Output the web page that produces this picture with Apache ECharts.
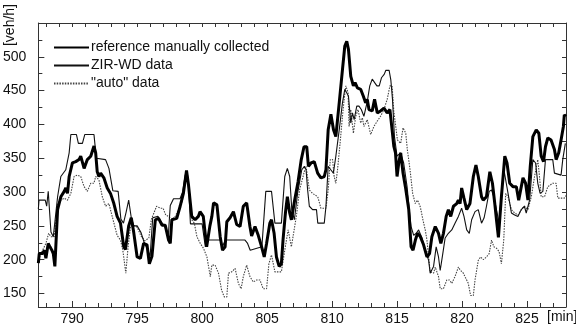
<!DOCTYPE html>
<html>
<head>
<meta charset="utf-8">
<script src="https://cdn.jsdelivr.net/npm/echarts@6/dist/echarts.min.js"></script>
<style>
  html, body { margin: 0; padding: 0; background: #fff; }
  #chart { width: 576px; height: 326px; }
</style>
</head>
<body>
<div id="chart"></div>
<script>
// tick values
var xTicks = [790, 795, 800, 805, 810, 815, 820, 825];
var xMinor = [788, 789, 790, 791, 792, 793, 794, 795, 796, 797, 798, 799, 800, 801, 802, 803, 804, 805, 806, 807, 808, 809, 810, 811, 812, 813, 814, 815, 816, 817, 818, 819, 820, 821, 822, 823, 824, 825, 826, 827];
var yTicks = [150, 200, 250, 300, 350, 400, 450, 500];
var yMinor = [150, 175, 200, 225, 250, 275, 300, 325, 350, 375, 400, 425, 450, 475, 500, 525];

// reference manually collected [min, veh/h]
var refData = [
  [787.4,195],[787.47,209],[787.73,209],[787.86,214],[787.98,202],[788.16,224],[788.29,219],[788.44,214],[788.55,209],[788.67,190],
  [788.88,274],[789.13,293],[789.39,301],[789.51,306],[789.64,298],[789.77,323],[790.02,343],[790.28,345],[790.53,348],[790.66,353],
  [790.92,335],[791.17,348],[791.43,353],[791.68,368],[791.81,358],[791.93,330],[792.06,323],[792.19,328],[792.44,321],[792.7,306],
  [792.95,298],[793.21,283],[793.46,264],[793.72,254],[793.97,219],[794.1,215],[794.35,250],[794.55,262],[794.74,240],[795.0,204],
  [795.25,202],[795.5,224],[795.76,222],[795.94,194],[796.14,205],[796.4,259],[796.65,261],[796.91,251],[797.16,251],[797.42,229],
  [797.55,224],[797.67,259],[798.05,261],[798.31,279],[798.56,298],[798.8,332],[798.95,311],[799.2,264],[799.46,259],[799.71,264],
  [799.84,271],[800.09,264],[800.35,219],[800.6,250],[800.75,264],[800.88,284],[801.14,281],[801.39,234],[801.57,214],[801.77,219],
  [801.9,256],[802.15,262],[802.41,271],[802.66,252],[802.92,249],[803.17,279],[803.43,284],[803.68,249],[803.81,235],[804.07,249],
  [804.32,236],[804.58,219],[804.78,204],[804.96,224],[805.21,254],[805.34,259],[805.54,239],[805.72,204],[805.93,190],[806.1,194],
  [806.23,230],[806.41,269],[806.56,293],[806.74,269],[806.87,259],[807.12,288],[807.38,315],[807.63,348],[807.84,367],[808.05,367],
  [808.18,338],[808.38,343],[808.63,345],[808.89,328],[809.14,321],[809.4,323],[809.53,333],[809.7,392],[809.91,415],[810.11,392],
  [810.29,382],[810.55,432],[810.8,481],[810.98,516],[811.13,523],[811.26,511],[811.44,471],[811.64,457],[811.77,462],[811.95,454],
  [812.2,452],[812.4,442],[812.58,432],[812.71,437],[812.84,422],[813.09,420],[813.27,437],[813.48,417],[813.73,420],[813.99,424],
  [814.24,417],[814.45,422],[814.62,392],[814.75,368],[814.88,358],[815.0,323],[815.13,343],[815.28,358],[815.46,328],[815.64,308],
  [815.9,274],[816.08,219],[816.23,214],[816.41,229],[816.58,239],[816.79,234],[817.04,222],[817.3,204],[817.5,209],[817.68,234],
  [817.94,249],[818.19,239],[818.37,224],[818.57,239],[818.78,264],[818.95,274],[819.13,264],[819.34,279],[819.59,283],[819.72,288],
  [819.85,283],[819.97,306],[820.15,291],[820.36,274],[820.61,283],[820.87,323],[821.07,340],[821.25,323],[821.5,293],[821.63,288],
  [821.88,293],[822.14,330],[822.34,313],[822.52,283],[822.65,259],[822.8,233],[823.03,293],[823.29,353],[823.46,343],[823.67,313],
  [823.92,308],[824.18,308],[824.36,288],[824.56,308],[824.69,321],[824.89,313],[825.07,288],[825.25,338],[825.45,382],[825.71,392],
  [825.91,387],[826.09,353],[826.27,345],[826.42,367],[826.6,380],[826.85,377],[827.11,363],[827.24,348],[827.44,358],[827.62,377],
  [827.8,397],[827.87,414],[828.0,412]
];

// ZIR-WD data
var zirData = [
  [787.4,275],[787.45,288],[787.93,288],[788.04,279],[788.16,301],[788.37,241],[788.55,234],[788.65,234],[788.88,293],[789.13,323],
  [789.51,333],[789.77,358],[789.9,385],[790.33,385],[790.48,372],[790.79,372],[790.97,385],[791.68,385],[791.86,350],[792.57,348],
  [792.83,335],[793.13,302],[793.54,301],[793.75,260],[793.95,254],[794.15,270],[794.35,288],[794.55,262],[794.75,250],[795.0,250],
  [795.3,240],[795.55,225],[795.8,215],[796.0,205],[796.2,262],[796.6,264],[796.9,255],[797.1,250],[797.4,236],[797.55,280],
  [797.8,290],[798.3,290],[798.5,300],[798.7,325],[798.85,330],[798.95,312],[799.1,253],[800.0,253],[800.25,219],[800.4,229],
  [801.4,229],[801.55,219],[801.8,229],[803.3,229],[803.5,224],[803.7,214],[804.6,219],[804.9,301],[805.34,301],[805.6,254],
  [806.1,254],[806.36,323],[806.56,335],[806.74,323],[806.9,274],[807.1,259],[807.36,300],[807.67,333],[807.87,338],[808.0,333],
  [808.12,303],[808.25,279],[808.5,274],[808.8,274],[808.9,254],[809.4,254],[809.53,279],[809.7,338],[809.9,333],[810.1,328],
  [810.29,353],[810.55,392],[810.8,432],[810.98,452],[811.13,454],[811.26,442],[811.44,402],[811.57,417],[811.7,407],[811.9,427],
  [812.07,427],[812.25,422],[812.45,412],[812.71,434],[812.9,457],[813.09,467],[813.24,469],[813.45,457],[813.63,457],[813.8,469],
  [814.01,474],[814.14,480],[814.39,480],[814.52,466],[814.65,437],[814.8,382],[815.0,353],[815.26,358],[815.51,343],[815.77,308],
  [815.97,269],[816.08,249],[816.28,236],[816.48,239],[816.66,244],[816.92,232],[817.17,214],[817.43,199],[817.55,180],[817.81,190],
  [818.01,219],[818.19,204],[818.32,184],[818.52,209],[818.7,232],[818.95,239],[819.21,244],[819.46,254],[819.72,264],[819.97,276],
  [820.15,264],[820.36,244],[820.56,239],[820.74,259],[821.0,271],[821.25,274],[821.5,254],[821.7,262],[821.88,279],[822.09,301],
  [822.27,303],[822.45,293],[822.65,274],[822.85,254],[823.03,298],[823.25,330],[823.54,298],[823.8,269],[824.05,266],[824.3,264],
  [824.56,274],[824.8,279],[824.94,269],[825.2,288],[825.45,348],[825.66,343],[825.83,313],[826.01,298],[826.22,301],[826.42,348],
  [826.98,348],[827.11,328],[827.62,325],[827.75,348],[827.95,372],[828.0,372]
];

// "auto" data
var autoData = [
  [787.4,200],[787.6,209],[787.98,224],[788.19,239],[788.37,234],[788.62,234],[788.88,283],[789.13,288],[789.39,291],[789.64,288],
  [789.9,298],[790.15,323],[790.41,325],[790.66,323],[790.92,308],[791.17,301],[791.43,313],[791.68,313],[791.81,323],[792.06,318],
  [792.32,293],[792.57,279],[792.83,283],[793.08,264],[793.46,236],[793.72,229],[793.9,214],[794.13,180],[794.3,218],[794.5,250],
  [794.8,250],[795.0,248],[795.3,235],[795.6,228],[795.9,232],[796.1,260],[796.5,279],[796.8,276],[797.0,276],[797.2,266],
  [797.42,264],[797.67,259],[797.93,264],[798.18,274],[798.44,283],[798.69,313],[798.9,323],[799.07,293],[799.2,259],[799.4,254],
  [799.6,234],[799.86,224],[800.1,217],[800.37,204],[800.63,175],[800.75,192],[801.0,192],[801.26,180],[801.5,155],[801.7,145],
  [801.9,145],[802.03,180],[802.28,182],[802.54,187],[802.79,165],[803.0,157],[803.17,175],[803.43,192],[803.68,175],[803.94,167],
  [804.19,170],[804.45,170],[804.7,157],[804.96,157],[805.14,194],[805.34,207],[805.6,182],[806.1,182],[806.36,214],[806.62,244],
  [806.87,219],[807.0,219],[807.25,264],[807.5,303],[807.7,318],[807.9,333],[808.0,338],[808.25,303],[808.5,298],[808.9,293],
  [809.14,276],[809.53,276],[809.7,303],[809.86,348],[810.04,348],[810.16,323],[810.29,313],[810.42,333],[810.62,373],[810.8,412],
  [810.93,437],[811.06,457],[811.23,447],[811.31,397],[811.44,422],[811.64,387],[811.82,412],[812.0,422],[812.2,402],[812.33,410],
  [812.45,397],[812.71,407],[812.97,385],[813.22,397],[813.48,405],[813.73,412],[813.99,422],[814.24,437],[814.45,457],[814.62,457],
  [814.75,420],[815.03,377],[815.28,372],[815.46,395],[815.67,387],[815.79,363],[816.0,333],[816.2,298],[816.4,283],[816.58,288],
  [816.79,278],[816.99,259],[817.17,244],[817.3,229],[817.43,204],[817.55,182],[817.81,180],[817.94,189],[818.19,175],[818.32,157],
  [818.57,157],[818.83,170],[819.03,170],[819.21,165],[819.46,175],[819.72,189],[819.85,185],[820.1,180],[820.3,172],[820.48,165],
  [820.66,147],[820.87,147],[821.0,170],[821.25,199],[821.43,204],[821.63,200],[821.88,204],[822.09,209],[822.27,229],[822.45,219],
  [822.65,217],[822.85,212],[823.03,194],[823.21,229],[823.36,298],[823.54,293],[823.8,274],[824.05,269],[824.3,266],[824.56,274],
  [824.8,279],[825.07,274],[825.33,293],[825.58,323],[825.83,348],[825.96,323],[826.09,293],[826.35,293],[826.6,308],[826.98,313],
  [827.24,313],[827.37,291],[827.87,291],[828.0,295]
];

var X_MIN = 787.4, X_MAX = 828, Y_MIN = 130, Y_MAX = 550;
var FONT = 'Liberation Sans, Arial, sans-serif';
var AX = '#333';

function xAx(pos, ticks, len, showLine, showLabel) {
  return {
    type: 'value', position: pos, min: X_MIN, max: X_MAX,
    axisLine: { show: showLine, lineStyle: { color: AX, width: 1 } },
    axisTick: { show: true, inside: true, length: len, customValues: ticks, lineStyle: { color: AX } },
    axisLabel: showLabel ? { show: true, customValues: xTicks, color: '#111', fontSize: 14, fontFamily: FONT, margin: 5 } : { show: false },
    splitLine: { show: false }
  };
}
function yAx(pos, ticks, len, showLine, showLabel) {
  return {
    type: 'value', position: pos, min: Y_MIN, max: Y_MAX,
    axisLine: { show: showLine, lineStyle: { color: AX, width: 1 } },
    axisTick: { show: true, inside: true, length: len, customValues: ticks, lineStyle: { color: AX } },
    axisLabel: showLabel ? { show: true, customValues: yTicks, color: '#111', fontSize: 14, fontFamily: FONT, margin: 12 } : { show: false },
    splitLine: { show: false }
  };
}

var chart = echarts.init(document.getElementById('chart'), null, { renderer: 'canvas' });
chart.setOption({
  backgroundColor: '#fff',
  animation: false,
  textStyle: { fontFamily: FONT },
  grid: { left: 35, top: 23, width: 531, height: 284 },
  legend: {
    orient: 'vertical', left: 53, top: 40.5, padding: 0,
    itemWidth: 35, itemHeight: 14, itemGap: 4,
    itemStyle: { opacity: 0 },
    textStyle: { fontSize: 14, color: '#111', fontFamily: FONT, padding: [0, 0, 0, -3] },
    data: ['reference manually collected', 'ZIR-WD data', '"auto" data']
  },
  xAxis: [
    xAx('bottom', xTicks, 6, true, true),
    xAx('bottom', xMinor, 4, false, false),
    xAx('top', xMinor, 4, true, false)
  ],
  yAxis: [
    yAx('left', yTicks, 6, true, true),
    yAx('left', yMinor, 4, false, false),
    yAx('right', yMinor, 4, true, false)
  ],
  graphic: [
    { type: 'text', left: 3, top: 4, rotation: Math.PI / 2,
      style: { text: '[veh/h]', fontSize: 14, fontFamily: FONT, fill: '#111' } },
    { type: 'text', left: 547, top: 310,
      style: { text: '[min]', fontSize: 14, fontFamily: FONT, fill: '#111' } }
  ],
  series: [
    { name: 'reference manually collected', type: 'line', data: refData, symbol: 'none',
      lineStyle: { color: '#000', width: 3 }, itemStyle: { color: '#000' }, z: 5 },
    { name: 'ZIR-WD data', type: 'line', data: zirData, symbol: 'none',
      lineStyle: { color: '#111', width: 1.1 }, itemStyle: { color: '#111' }, z: 4 },
    { name: '"auto" data', type: 'line', data: autoData, symbol: 'none',
      lineStyle: { color: '#444', width: 1.1, type: [1.5, 1.2] }, itemStyle: { color: '#444' }, z: 3 }
  ]
});
</script>
</body>
</html>
